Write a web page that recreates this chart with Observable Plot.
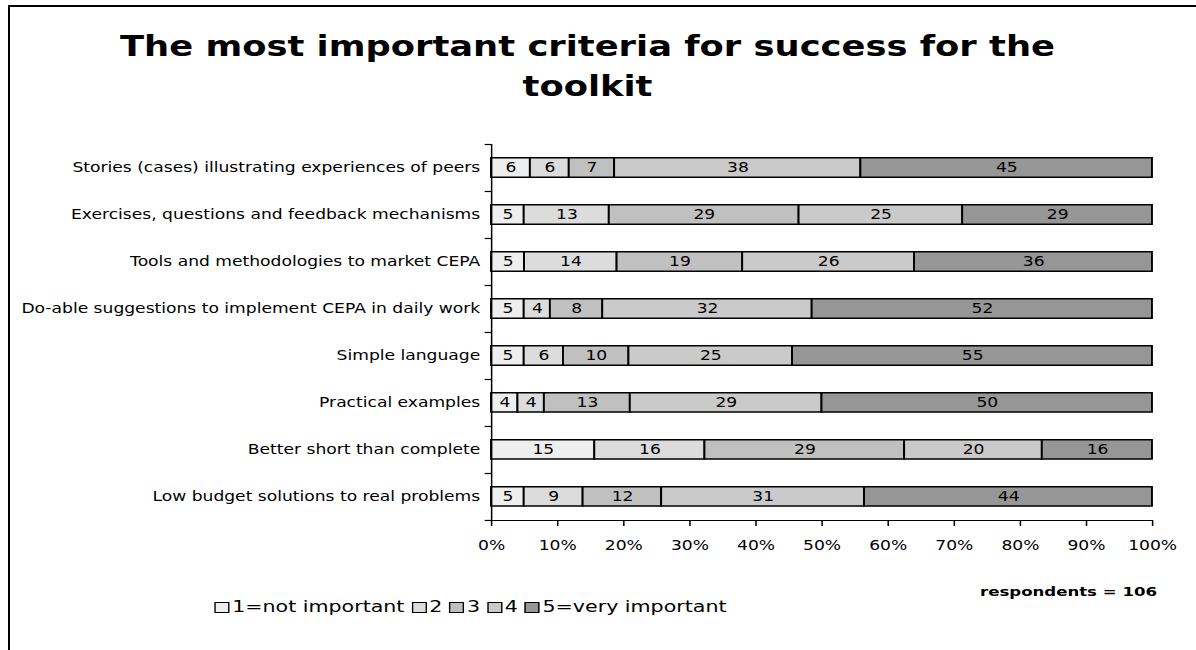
<!DOCTYPE html>
<html><head><meta charset="utf-8">
<script src="https://cdn.jsdelivr.net/npm/d3@7"></script>
<script src="https://cdn.jsdelivr.net/npm/@observablehq/plot@0.6"></script>
<style>
body{margin:0;background:#fff;overflow:hidden;font-family:"DejaVu Sans",Verdana,sans-serif;width:1196px;height:650px;position:relative;}
#frame{position:absolute;left:8px;top:5px;width:1300px;height:800px;border-left:2px solid #000;border-top:2px solid #000;}
#title{position:absolute;top:27px;text-align:center;font-weight:bold;font-size:28.5px;line-height:40px;white-space:nowrap;transform-origin:0 0;}
#chart{position:absolute;left:0;top:121px;transform-origin:0 0;}
#resp{position:absolute;top:584px;font-weight:bold;font-size:13px;white-space:nowrap;transform-origin:0 0;}
#legend{position:absolute;left:213px;top:598px;font-size:15px;display:flex;align-items:center;white-space:nowrap;transform-origin:0 0;}
.sw{display:inline-block;width:9px;height:9px;border:1px solid #000;margin-right:2px;margin-left:1px;}
.it{margin-right:4px;}
</style></head>
<body>
<div id="frame"></div>
<div id="title">The most important criteria for success for the<br>toolkit</div>
<div id="chart"></div>
<div id="resp">respondents = 106</div>
<div id="legend"></div>
<script>
const categories = [
  "Stories (cases) illustrating experiences of peers",
  "Exercises, questions and feedback mechanisms",
  "Tools and methodologies to market CEPA",
  "Do-able suggestions to implement CEPA in daily work",
  "Simple language",
  "Practical examples",
  "Better short than complete",
  "Low budget solutions to real problems"
];
const levels = ["1=not important", "2", "3", "4", "5=very important"];
const level1 = [6, 5, 5, 5, 5, 4, 15, 5];
const level2 = [6, 13, 14, 4, 6, 4, 16, 9];
const level3 = [7, 29, 19, 8, 10, 13, 29, 12];
const level4 = [38, 25, 26, 32, 25, 29, 20, 31];
const level5 = [45, 29, 36, 52, 55, 50, 16, 44];
const colors = ["#eeeeee", "#dcdcdc", "#c0c0c0", "#cacaca", "#969696"];
const xTicks = [0, 10, 20, 30, 40, 50, 60, 70, 80, 90, 100];

const series = [level1, level2, level3, level4, level5];
const table = [];
categories.forEach((cat, i) => {
  const total = d3.sum(series, s => s[i]);
  let acc = 0;
  series.forEach((s, k) => {
    const v = s[i];
    const x1 = acc / total * 100;
    acc += v;
    const x2 = acc / total * 100;
    table.push({cat, i, level: levels[k], value: v, x1, x2});
  });
});

// the reference's lettering is horizontally wide (Verdana-like), so the chart is drawn narrower and stretched
const K = 1.27;
const chart = Plot.plot({
  width: 1196 / K,
  height: 450,
  marginLeft: 491 / K,
  marginRight: 44 / K,
  marginTop: 23,
  marginBottom: 51,
  style: {fontFamily: "'DejaVu Sans', Verdana, sans-serif", fontSize: "13.5px", color: "#000", background: "transparent", overflow: "visible"},
  x: {domain: [0, 100]},
  y: {domain: [0, categories.length], reverse: true},
  color: {domain: levels, range: colors},
  marks: [
    Plot.rect(table, {
      x1: "x1", x2: "x2",
      y1: d => d.i + 0.295, y2: d => d.i + 0.705,
      fill: "level", stroke: "#000", strokeWidth: 1.5
    }),
    Plot.text(table, {
      x: d => (d.x1 + d.x2) / 2, y: d => d.i + 0.5,
      text: d => String(d.value), fill: "#000", fontSize: 13.5
    }),
    Plot.axisY({ticks: d3.range(0, categories.length + 1), tickSize: 5, tickFormat: () => "", strokeWidth: 1.2}),
    Plot.axisY({
      ticks: categories.map((_, i) => i + 0.5),
      tickFormat: d => categories[Math.floor(d)],
      tickSize: 0, tickPadding: 9, fontSize: 13.5
    }),
    Plot.axisX({ticks: xTicks, tickFormat: d => d + "%", tickSize: 6, tickPadding: 14, fontSize: 13.5, strokeWidth: 1.2}),
    Plot.ruleX([0], {stroke: "#000", strokeWidth: 1.2}),
    Plot.ruleY([categories.length], {stroke: "#000", strokeWidth: 1.2})
  ]
});
chart.querySelectorAll("rect, line, path").forEach(e => e.setAttribute("vector-effect", "non-scaling-stroke"));
const holder = document.getElementById("chart");
holder.appendChild(chart);
holder.style.transform = `scaleX(${K})`;

const legend = document.getElementById("legend");
levels.forEach((l, k) => {
  const sw = document.createElement("span");
  sw.className = "sw";
  sw.style.background = colors[k];
  legend.appendChild(sw);
  const t = document.createElement("span");
  t.className = "it";
  t.textContent = l;
  legend.appendChild(t);
});

// stretch the HTML texts to the widths seen in the reference
function fit(el, left, width) {
  const w = el.getBoundingClientRect().width;
  el.style.left = left + "px";
  el.style.transform = `scaleX(${width / w})`;
}
fit(document.getElementById("title"), 120, 935);
fit(document.getElementById("resp"), 980, 177);
fit(legend, 213, 519);
</script>
</body></html>
